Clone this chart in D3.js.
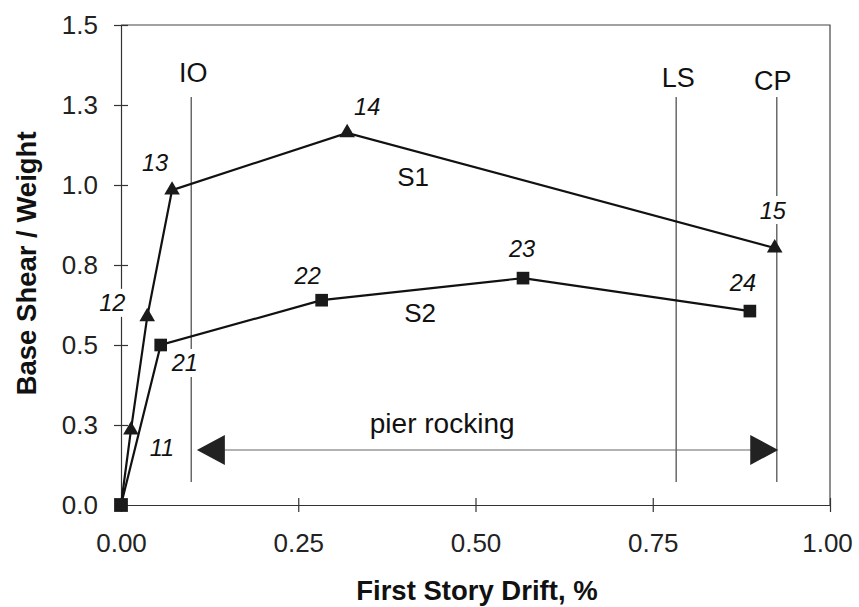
<!DOCTYPE html>
<html>
<head>
<meta charset="utf-8">
<script src="https://cdn.jsdelivr.net/npm/d3@7"></script>
<style>
  body { margin: 0; background: #fff; }
  svg { display: block; font-family: "Liberation Sans", Arial, Helvetica, sans-serif; }
  .axis path, .axis line { stroke: #333; stroke-width: 1.2; }
  .axis text { font-size: 26px; fill: #222; }
</style>
</head>
<body>
<svg id="chart"></svg>
<script>
// S1 (triangles) and S2 (squares)
const s1Drift = [0.000, 0.014, 0.037, 0.072, 0.319, 0.922];
const s1Ratio = [0.000, 0.234, 0.588, 0.984, 1.163, 0.803];
const s1Labels = ["", "11", "12", "13", "14", "15"];

const s2Drift = [0.000, 0.056, 0.283, 0.567, 0.887];
const s2Ratio = [0.000, 0.500, 0.640, 0.709, 0.606];
const s2Labels = ["", "21", "22", "23", "24"];

const xTicks = [0, 0.25, 0.5, 0.75, 1.0];
const xTickLabels = ["0.00", "0.25", "0.50", "0.75", "1.00"];
const yTicks = [0, 0.25, 0.5, 0.75, 1.0, 1.25, 1.5];
const yTickLabels = ["0.0", "0.3", "0.5", "0.8", "1.0", "1.3", "1.5"];

const limitNames = ["IO", "LS", "CP"];
const limitDrift = [0.099, 0.783, 0.925];
const limitRange = [0.072, 1.275];

const rockingRange = [0.107, 0.927];
const rockingLevel = 0.172;

const width = 859, height = 607;
const margin = { left: 121, right: 29, top: 25, bottom: 102 };
const innerWidth = width - margin.left - margin.right;
const innerHeight = height - margin.top - margin.bottom;

const svg = d3.select("#chart").attr("width", width).attr("height", height);
const g = svg.append("g").attr("transform", `translate(${margin.left},${margin.top})`);

const x = d3.scaleLinear().domain([0, 1]).range([0, innerWidth]);
const y = d3.scaleLinear().domain([0, 1.5]).range([innerHeight, 0]);

// frame (top and right)
g.append("path")
  .attr("d", `M0,0H${innerWidth}V${innerHeight}`)
  .attr("fill", "none").attr("stroke", "#444").attr("stroke-width", 1.2);

const xAxis = g.append("g")
  .attr("class", "axis")
  .attr("transform", `translate(0,${innerHeight})`)
  .call(d3.axisBottom(x).tickValues(xTicks).tickFormat((d, i) => xTickLabels[i])
    .tickSizeOuter(0).tickSizeInner(7).tickPadding(22));
xAxis.selectAll(".tick line").attr("y1", -7).attr("y2", 7);
xAxis.select(".tick:last-of-type text").attr("dx", -3);

const yAxis = g.append("g")
  .attr("class", "axis")
  .call(d3.axisLeft(y).tickValues(yTicks).tickFormat((d, i) => yTickLabels[i])
    .tickSizeOuter(0).tickSizeInner(7).tickPadding(16));
yAxis.selectAll(".tick line").attr("x1", -7).attr("x2", 7);
yAxis.select(".tick:first-of-type line").remove();

// axis titles
svg.append("text")
  .attr("x", margin.left + x(0.502)).attr("y", 600)
  .attr("text-anchor", "middle")
  .attr("font-size", 27.5).attr("font-weight", "bold").attr("fill", "#111")
  .text("First Story Drift, %");
svg.append("text")
  .attr("transform", `translate(36,${margin.top + y(0.755)}) rotate(-90)`)
  .attr("text-anchor", "middle")
  .attr("font-size", 27.5).attr("font-weight", "bold").attr("fill", "#111")
  .text("Base Shear / Weight");

// performance limit lines
limitNames.forEach((name, i) => {
  g.append("line")
    .attr("x1", x(limitDrift[i])).attr("x2", x(limitDrift[i]))
    .attr("y1", y(limitRange[0])).attr("y2", y(limitRange[1]))
    .attr("stroke", "#333").attr("stroke-width", 1.1);
  g.append("text")
    .attr("x", x(limitDrift[i]) + [2, 2, -4][i])
    .attr("y", y(limitRange[1]) + [-15, -10, -7][i])
    .attr("text-anchor", "middle")
    .attr("font-size", 27).attr("fill", "#111")
    .text(name);
});

// pier rocking arrow
const ay = y(rockingLevel);
const ax0 = x(rockingRange[0]), ax1 = x(rockingRange[1]);
g.append("line")
  .attr("x1", ax0 + 20).attr("x2", ax1 - 20).attr("y1", ay).attr("y2", ay)
  .attr("stroke", "#666").attr("stroke-width", 1.1);
const head = d3.path();
head.moveTo(ax0, ay); head.lineTo(ax0 + 28, ay - 15); head.lineTo(ax0 + 28, ay + 15); head.closePath();
head.moveTo(ax1, ay); head.lineTo(ax1 - 28, ay - 15); head.lineTo(ax1 - 28, ay + 15); head.closePath();
g.append("path").attr("d", head.toString()).attr("fill", "#222");
g.append("text")
  .attr("x", x(0.453)).attr("y", y(0.225))
  .attr("text-anchor", "middle")
  .attr("font-size", 28).attr("fill", "#111")
  .text("pier rocking");

// series
const line = d3.line().x(d => x(d[0])).y(d => y(d[1]));
const s1 = d3.zip(s1Drift, s1Ratio, s1Labels);
const s2 = d3.zip(s2Drift, s2Ratio, s2Labels);

g.append("path").datum(s1).attr("d", line)
  .attr("fill", "none").attr("stroke", "#111").attr("stroke-width", 2.2);
g.append("path").datum(s2).attr("d", line)
  .attr("fill", "none").attr("stroke", "#111").attr("stroke-width", 2.2);

g.selectAll(".tri").data(s1.filter(d => d[2]))
  .join("path")
  .attr("transform", d => `translate(${x(d[0])},${y(d[1])})`)
  .attr("d", d3.symbol(d3.symbolTriangle, 105))
  .attr("fill", "#1a1a1a");
g.selectAll(".sq").data(s2)
  .join("path")
  .attr("transform", d => `translate(${x(d[0])},${y(d[1])})`)
  .attr("d", (d, i) => d3.symbol(d3.symbolSquare, i === 0 ? 190 : 160)())
  .attr("fill", "#1a1a1a");

// point labels, offsets in pixels from each marker; some sit on a white gap
const labelOffset = {
  "11": [31, 17], "12": [-35, -14], "13": [-17, -28], "14": [20, -26], "15": [-2, -38],
  "21": [24, 18], "22": [-14, -25], "23": [-1, -30], "24": [-7, -29]
};
const gapped = ["12", "21", "15"];
const labelled = s1.concat(s2).filter(d => d[2]);
g.selectAll(".gap").data(labelled.filter(d => gapped.includes(d[2])))
  .join("rect")
  .attr("x", d => x(d[0]) + labelOffset[d[2]][0] - 16)
  .attr("y", d => y(d[1]) + labelOffset[d[2]][1] - 14)
  .attr("width", 32).attr("height", 28)
  .attr("fill", "#fff");
g.selectAll(".pt-label").data(labelled)
  .join("text")
  .attr("x", d => x(d[0]) + labelOffset[d[2]][0])
  .attr("y", d => y(d[1]) + labelOffset[d[2]][1])
  .attr("dy", "0.36em")
  .attr("text-anchor", "middle")
  .attr("font-size", 23.5).attr("font-style", "italic").attr("fill", "#111")
  .text(d => d[2]);

// series names
g.append("text").attr("x", x(0.412)).attr("y", y(1.025)).attr("dy", "0.36em")
  .attr("text-anchor", "middle").attr("font-size", 26).attr("fill", "#111").text("S1");
g.append("text").attr("x", x(0.422)).attr("y", y(0.60)).attr("dy", "0.36em")
  .attr("text-anchor", "middle").attr("font-size", 26).attr("fill", "#111").text("S2");
</script>
</body>
</html>
